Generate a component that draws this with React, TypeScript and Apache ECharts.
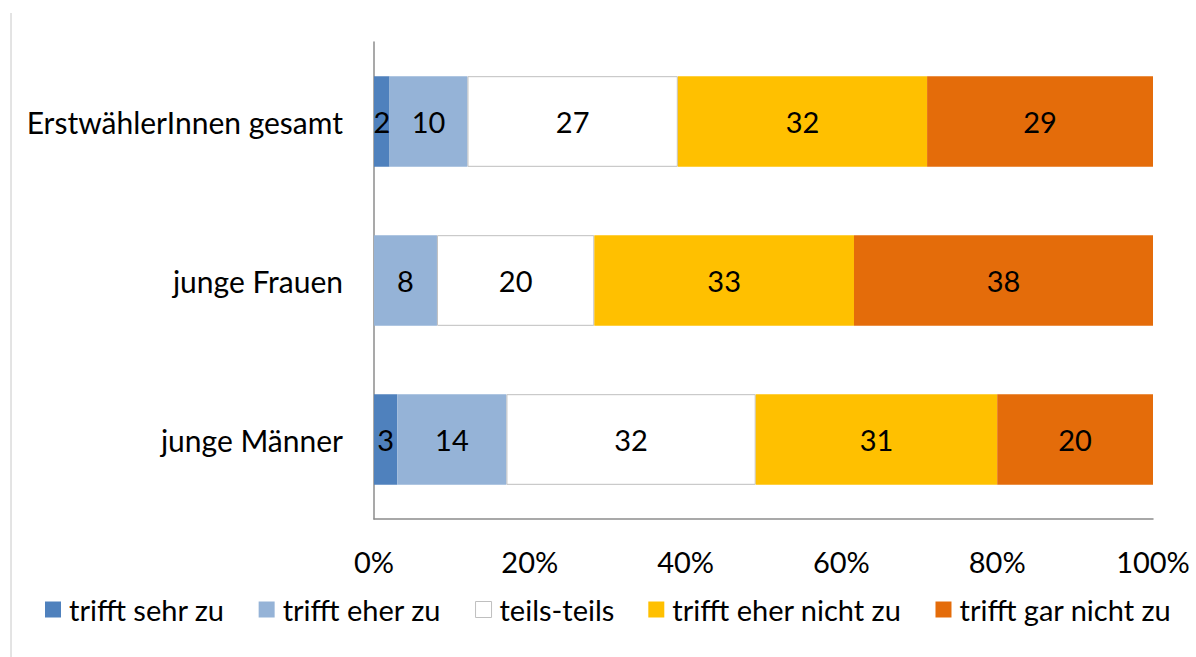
import React, { useEffect, useRef } from "react";
import * as echarts from "echarts";

const categories = ["ErstwählerInnen gesamt", "junge Frauen", "junge Männer"];
const seriesNames = [
  "trifft sehr zu",
  "trifft eher zu",
  "teils-teils",
  "trifft eher nicht zu",
  "trifft gar nicht zu",
];
const sehrZu = [2, 0, 3];
const eherZu = [10, 8, 14];
const teilsTeils = [27, 20, 32];
const eherNicht = [32, 33, 31];
const garNicht = [29, 38, 20];
const xTicks = [0, 20, 40, 60, 80, 100];

const colors = ["#4F81BD", "#95B3D7", "#FFFFFF", "#FFC000", "#E46C0A"];
const FONT = "Lato";

export default function App() {
  const ref = useRef<HTMLDivElement>(null);
  useEffect(() => {
    if (!ref.current) return;
    const chart = echarts.init(ref.current, null, { renderer: "svg" });
    const all = [sehrZu, eherZu, teilsTeils, eherNicht, garNicht];
    const totals = categories.map((_, i) => all.reduce((s, arr) => s + arr[i], 0));
    const series = all.map((arr, si) => ({
      name: seriesNames[si],
      type: "bar",
      stack: "total",
      barCategoryGap: "43%",
      data: arr.map((v, i) => (v / totals[i]) * 100),
      itemStyle:
        si === 2
          ? { color: colors[si], borderColor: "#BFBFBF", borderWidth: 1 }
          : { color: colors[si] },
      label: {
        show: true,
        position: "inside",
        color: "#000",
        fontFamily: FONT,
        fontSize: 29,
        formatter: (p: any) => (arr[p.dataIndex] === 0 ? "" : String(arr[p.dataIndex])),
      },
      emphasis: { disabled: true },
    }));
    chart.setOption({
      animation: false,
      textStyle: { fontFamily: FONT },
      grid: { left: 374, right: 43, top: 42, bottom: 138, containLabel: false },
      xAxis: {
        type: "value",
        min: xTicks[0],
        max: xTicks[xTicks.length - 1],
        interval: 20,
        axisLine: { show: true, lineStyle: { color: "#8C8C8C", width: 1.5 } },
        axisTick: { show: false },
        splitLine: { show: false },
        axisLabel: {
          formatter: "{value}%",
          color: "#000",
          fontFamily: FONT,
          fontSize: 29,
          margin: 28,
        },
      },
      yAxis: {
        type: "category",
        inverse: true,
        data: categories,
        axisLine: { show: true, lineStyle: { color: "#8C8C8C", width: 1.5 } },
        axisTick: { show: false },
        axisLabel: { color: "#000", fontFamily: FONT, fontSize: 30, margin: 31 },
      },
      legend: {
        left: 40,
        top: 590,
        itemWidth: 16,
        itemHeight: 16,
        itemGap: 34,
        icon: "rect",
        textStyle: { color: "#000", fontFamily: FONT, fontSize: 29, padding: [0, 0, 0, 3] },
        data: seriesNames.map((n, i) =>
          i === 2
            ? { name: n, itemStyle: { color: "#FFFFFF", borderColor: "#BFBFBF", borderWidth: 1 } }
            : { name: n }
        ),
      },
      graphic: [
        {
          type: "line",
          shape: { x1: 11, y1: 13, x2: 11, y2: 657 },
          style: { stroke: "#C8C8C8", lineWidth: 1 },
        },
      ],
      series,
    });
    return () => chart.dispose();
  }, []);
  return <div ref={ref} style={{ width: 1196, height: 657, position: "absolute", left: 0, top: 0 }} />;
}
